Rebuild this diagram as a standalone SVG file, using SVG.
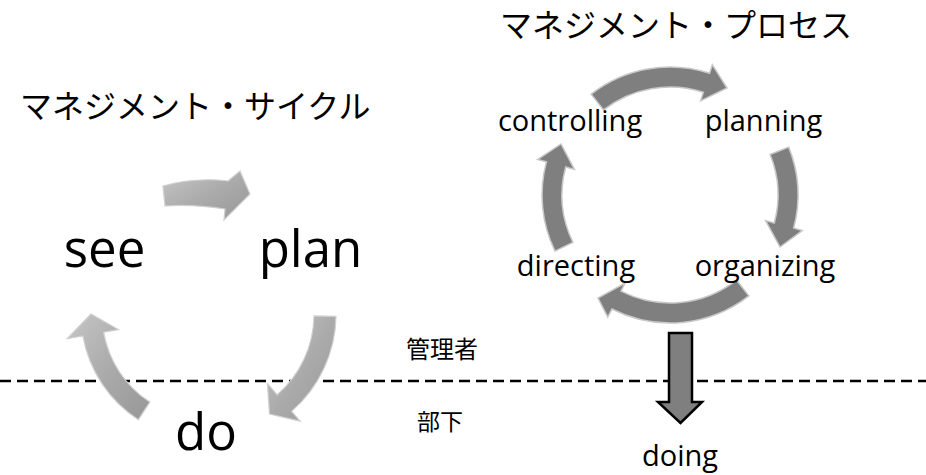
<svg xmlns="http://www.w3.org/2000/svg" width="926" height="475" viewBox="0 0 926 475">
  <defs>
    <linearGradient id="g1" x1="0" y1="0" x2="1" y2="1">
      <stop offset="0" stop-color="#c6c6c6"/>
      <stop offset="0.5" stop-color="#ababab"/>
      <stop offset="1" stop-color="#979797"/>
    </linearGradient>
    <style>
      .jp { font-family: "Noto Sans CJK JP", "Noto Sans CJK SC", sans-serif; fill: #000; }
      .big { font-family: "Open Sans", "Noto Sans", sans-serif; font-size: 51px; fill: #000; text-anchor: middle; }
      .lbl { font-family: "Open Sans", "Noto Sans", sans-serif; font-size: 29px; fill: #000; text-anchor: middle; }
      .la { fill: url(#g1); stroke: #d0d0d0; stroke-width: 1.2; }
      .ra { fill: #7f7f7f; stroke: #c8c8c8; stroke-width: 1.5; }
    </style>
  </defs>
  <rect width="926" height="475" fill="#fff"/>

  <g id="title-cycle"><text class="jp" x="20" y="118" font-size="32">マネジメント・サイクル</text></g>
  <g id="title-process"><text class="jp" x="500" y="37" font-size="32">マネジメント・プロセス</text></g>

  <g id="connectors">
    <line x1="0" y1="381" x2="926" y2="381" stroke="#000" stroke-width="2.5" stroke-dasharray="11 6"/>
    <!-- left cycle -->
    <path class="la" d="M163,186 Q195,177 228,181 L240,171 L250,194 L224,220 L225,209 Q193,204 165,206 Z"/>
    <path class="la" d="M336,316.3 A129,129 0 0 1 291.6,411.4 L300.2,421.2 L269.5,414.1 L267.4,383.4 L277.2,394.8 A107,107 0 0 0 314,315.9 Z"/>
    <path class="la" d="M138.4,419.7 A126,126 0 0 1 82.9,335.9 L67.2,338.7 L91,314 L118.4,329.6 L103.6,332.2 A105,105 0 0 0 149.8,402.1 Z"/>
    <!-- right cycle -->
    <path class="ra" d="M591.2,94.1 A128,128 0 0 1 709.6,73.3 L712.3,64.7 L727,88 L700.6,100.8 L703.4,92.3 A108,108 0 0 0 603.5,109.9 Z"/>
    <path class="ra" d="M788.7,147.1 A128,128 0 0 1 793.6,228.1 L802.3,230.5 L780,247 L765.6,220.6 L774.3,223 A108,108 0 0 0 770.1,154.5 Z"/>
    <path class="ra" d="M748.8,295.9 A128,128 0 0 1 611.9,309 L607.8,317.1 L598,298 L625.1,283.2 L621,291.2 A108,108 0 0 0 736.5,280.1 Z"/>
    <path class="ra" d="M555,251.1 A128,128 0 0 1 546.4,161.9 L537.7,159.5 L561,144 L574.4,169.4 L565.7,167 A108,108 0 0 0 572.9,242.3 Z"/>
    <!-- down arrow -->
    <path d="M669,333 H692 V402 H702 L680.5,423 L658,402 H669 Z" fill="#7f7f7f" stroke="#000" stroke-width="2.5" stroke-linejoin="miter"/>
  </g>

  <g id="node-see"><text class="big" x="104.5" y="267">see</text></g>
  <g id="node-plan"><text class="big" x="310.5" y="267">plan</text></g>
  <g id="node-do"><text class="big" x="206" y="450">do</text></g>

  <g id="node-controlling"><text class="lbl" x="570" y="131">controlling</text></g>
  <g id="node-planning"><text class="lbl" x="763.5" y="131">planning</text></g>
  <g id="node-directing"><text class="lbl" x="576" y="276">directing</text></g>
  <g id="node-organizing"><text class="lbl" x="765" y="276">organizing</text></g>
  <g id="node-doing"><text class="lbl" x="680" y="466">doing</text></g>

  <g id="label-manager"><text class="jp" x="406" y="358" font-size="24">管理者</text></g>
  <g id="label-subordinate"><text class="jp" x="417" y="430" font-size="23">部下</text></g>
</svg>
